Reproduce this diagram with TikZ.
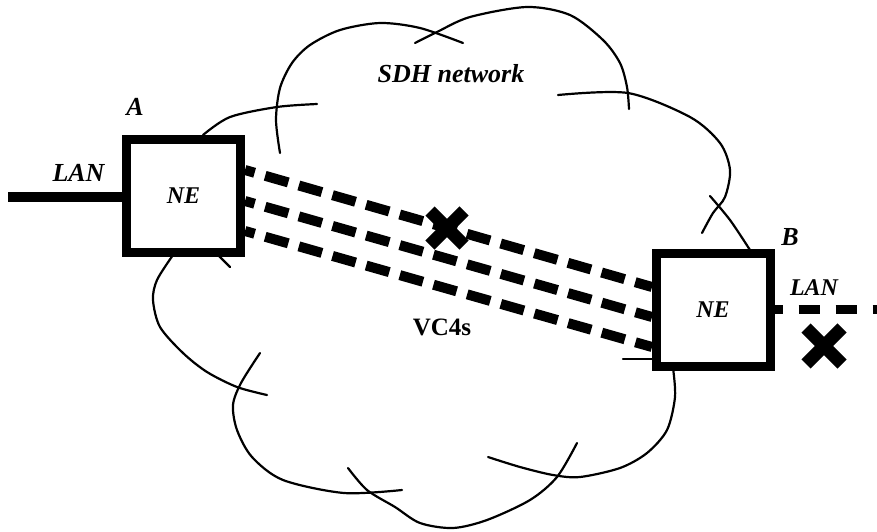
\documentclass[tikz,border=0pt]{standalone}
\usepackage{fontspec}
\setmainfont{Liberation Serif}
\usetikzlibrary{calc}
\tikzset{
  cloudarc/.style={line width=2.2pt, line cap=round},
  nebox/.style={draw, line width=9pt, fill=white, minimum width=114pt, minimum height=113pt, inner sep=0pt,
                font=\bfseries\itshape\fontsize{24}{28}\selectfont},
  lbl/.style={anchor=base, inner sep=0pt, font=\bfseries\itshape\fontsize{26}{30}\selectfont},
  vc/.style={line width=10pt, dash pattern=on 24pt off 11pt, dash phase=14pt},
  lanline/.style={line width=10pt},
  landash/.style={line width=9pt, dash pattern=on 21pt off 16pt, dash phase=13pt},
  xmark/.style={line width=13pt}
}
\begin{document}
\begin{tikzpicture}[x=1pt,y=-1pt]
\useasboundingbox (0,0) rectangle (877,531);

% cloud arcs
\draw[cloudarc] plot[smooth] coordinates {(203,135) (230,117) (277,107) (317,104)};
\draw[cloudarc] plot[smooth] coordinates {(280,153) (276,120) (280,88) (292,63) (310,45) (340,30) (380,23) (420,28) (463,43)};
\draw[cloudarc] plot[smooth] coordinates {(415,43) (437,32) (470,17) (527,7) (570,15) (603,40) (620,63) (627,87) (629,109)};
\draw[cloudarc] plot[smooth] coordinates {(558,95) (628,93) (690,117) (720,143) (730,170) (725,197) (713,213) (702,233)};
\draw[cloudarc] plot[smooth] coordinates {(710,196) (730,220) (750,250)};
\draw[cloudarc] (623,359) -- (655,359);
\draw[cloudarc] plot[smooth] coordinates {(673,368) (675,397) (667,430) (647,453) (620,468) (580,477) (553,475) (520,467) (488,457)};
\draw[cloudarc] plot[smooth] coordinates {(577,443) (557,477) (530,500) (487,520) (453,528) (420,523) (395,507) (367,490) (348,468)};
\draw[cloudarc] plot[smooth] coordinates {(402,490) (344,493) (283,480) (252,457) (237,430) (233,405) (241,383) (260,353)};
\draw[cloudarc] plot[smooth] coordinates {(173,255) (157,280) (153,300) (160,327) (183,353) (207,372) (237,387) (267,395)};
\draw[cloudarc] (218,255) -- (230,267);

% coordinates
\coordinate (a1) at (245,170);
\coordinate (a2) at (245,201);
\coordinate (a3) at (245,231);
\coordinate (b1) at (652,287);
\coordinate (b2) at (652,317);
\coordinate (b3) at (652,347);
\coordinate (lanA) at (8,197);
\coordinate (lanB) at (877,309.5);
\coordinate (x1) at (447,228);
\coordinate (x2) at (824,346);

% VC4 dashed connections
\draw[vc] (a1) -- (b1);
\draw[vc] (a2) -- (b2);
\draw[vc] (a3) -- (b3);

% NE boxes
\node[nebox] (nA) at (183.5,196) {NE};
\node[nebox] (nB) at (713,310) {NE};

% LANs
\draw[lanline] (lanA) -- (lanA -| nA.west);
\draw[landash] (lanB -| nB.east) -- (lanB);

% failure marks
\draw[xmark] ($(x1)+(-17,-17)$) -- ($(x1)+(17,17)$) ($(x1)+(-17,17)$) -- ($(x1)+(17,-17)$);
\draw[xmark] ($(x2)+(-18,-18)$) -- ($(x2)+(18,18)$) ($(x2)+(-18,18)$) -- ($(x2)+(18,-18)$);

% labels
\node[lbl] (tA) at (135,115) {A};
\node[lbl] (tB) at (790,245) {B};
\node[lbl] (tLanA) at (78.5,181) {LAN};
\node[lbl, font=\bfseries\itshape\fontsize{24}{28}\selectfont] (tLanB) at (814,295) {LAN};
\node[lbl] (tSDH) at (451,82) {SDH network};
\node[anchor=base, inner sep=0pt, font=\bfseries\fontsize{25}{30}\selectfont] (tVC) at (442,335) {VC4s};
\end{tikzpicture}
\end{document}
